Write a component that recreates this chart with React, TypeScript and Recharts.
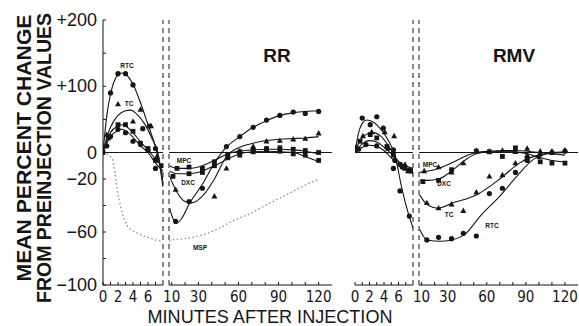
import { ComposedChart, Line, ReferenceLine, Scatter, XAxis, YAxis } from 'recharts'

type Pair = [number, number]
type Mark = 'circle' | 'triangle' | 'square'

// minutes: 0-8 during infusion, then 10-120 on a compressed scale after the break
const earlyTicks = [0, 1, 2, 3, 4, 5, 6, 7]
const earlyLabels = [0, 2, 4, 6]
const lateTicks = [10, 20, 30, 40, 50, 60, 70, 80, 90, 100, 110, 120]
const lateLabels = [10, 30, 60, 90, 120]

// percent change; the scale above zero is half as tall per unit as below
const yLabelValues = [200, 100, 0, -20, -60, -100]
const yLabelText = ['+200', '+100', '0', '\u221220', '\u221260', '\u2212100']
const yMinor = [150, 50, -40, -80]

// ---- RR panel ----
const rrRtcFitL: Pair[] = [[0, 0], [0.5, 55], [1, 88], [1.5, 108], [2, 117], [2.5, 120], [3, 118], [4, 103], [5, 75], [6, 42], [7, 8], [7.5, -8], [8, -26]]
const rrRtcPtsL: Pair[] = [[1, 90], [2, 119], [3, 119], [4, 102], [5.3, 36], [6.2, 40], [7, 6]]
const rrTcFitL: Pair[] = [[0, 0], [0.5, 22], [1, 38], [2, 56], [3, 63], [3.7, 64], [4.5, 58], [5.5, 44], [6.5, 22], [7.3, 0], [8, -22]]
const rrTcPtsL: Pair[] = [[0.5, 27], [2, 73], [4, 47], [5, 65], [6.4, 40], [7.2, -3]]
const rrMpcFitL: Pair[] = [[0, 0], [0.5, 18], [1, 30], [2, 40], [2.5, 42], [3, 40], [4, 30], [5, 16], [6, 4], [7, -5], [8, -11]]
const rrMpcPtsL: Pair[] = [[0, 0], [0.7, 22], [2, 42], [3, 42], [4, 32], [5, 14], [6, 6], [7, -6], [8, -10]]
const rrDxcFitL: Pair[] = [[0, 0], [0.5, 14], [1, 24], [2, 33], [2.5, 35], [3, 33], [4, 23], [5, 10], [6, 0], [7, -8], [8, -14]]
const rrDxcPtsL: Pair[] = [[0.5, 10], [1, 24], [2, 35], [3, 30], [4, 17], [5, 12], [6, 3], [7, -12]]
const rrMspL: Pair[] = [[0, 0], [0.8, -2], [1.3, -6], [1.6, -16], [1.9, -28], [2.4, -42], [3.2, -55], [4, -59], [5, -62], [6, -64], [7, -66], [8, -67]]

const rrRtcFitR: Pair[] = [[8.5, -42], [11, -50], [14, -53], [18, -49], [23, -39], [33, -24], [42, -8], [51, 8], [61, 24], [71, 38], [81, 48], [91, 56], [101, 60], [110, 62], [120, 63]]
const rrRtcPtsR: Pair[] = [[13, -52], [23, -37], [33, -27], [51, 9], [61, 24], [71, 38], [81, 49], [91, 56], [101, 61], [110, 59], [120, 62]]
const rrTcFitR: Pair[] = [[8.5, -18], [14, -30], [20, -37], [25, -38], [33, -33], [42, -20], [51, -3], [61, 8], [71, 14], [81, 18], [91, 20], [101, 21], [110, 22], [120, 24]]
const rrTcPtsR: Pair[] = [[13, -28], [42, -33], [51, -12], [61, 2], [71, 9], [81, 17], [91, 18], [101, 20], [110, 21], [120, 29]]
const rrMpcFitR: Pair[] = [[8.5, -10], [14, -12], [23, -12], [33, -10], [42, -6], [52, -1], [61, 2], [71, 4], [81, 5], [91, 5], [101, 4], [110, 2], [120, -1]]
const rrMpcPtsR: Pair[] = [[14, -12], [23, -11], [33, -12], [42, -7], [52, -2], [61, 1], [71, 4], [81, 6], [91, 7], [101, 5], [110, 3], [120, 0]]
const rrDxcFitR: Pair[] = [[8.5, -14], [14, -16], [23, -16], [33, -14], [42, -10], [52, -5], [61, -1], [71, 1], [81, 2], [91, 1], [101, 0], [110, -3], [120, -7]]
const rrDxcPtsR: Pair[] = [[11, -18], [23, -16], [33, -15], [42, -10], [52, -4], [61, -2], [71, 1], [81, 3], [91, 2], [101, -1], [110, -2], [120, -6]]
const rrMspR: Pair[] = [[8, -67], [10, -66], [20, -65], [30, -63], [44, -58], [55, -52], [69, -46], [80, -40], [94, -33], [105, -27], [120, -20]]

// ---- RMV panel ----
const rmvRtcFitL: Pair[] = [[0, 0], [0.5, 30], [1, 44], [1.6, 49], [2.5, 46], [3.5, 36], [4.5, 20], [5.5, -2], [6.5, -28], [7.3, -45], [8, -57]]
const rmvRtcPtsL: Pair[] = [[1, 52], [2.1, 42], [3, 54], [3.9, 37], [5.3, 4], [5.3, -12], [6.2, -29], [7.5, -48]]
const rmvTcFitL: Pair[] = [[0, 0], [0.7, 18], [1.5, 27], [2.5, 30], [3.5, 25], [4.5, 12], [5.5, -3], [6.5, -10], [7.5, -14], [8, -16]]
const rmvTcPtsL: Pair[] = [[0.2, 9], [1.1, 25], [2.3, 31], [4.1, 31], [5.4, 25], [6.9, -9], [7.3, -14]]
const rmvMpcFitL: Pair[] = [[0, 0], [1, 13], [2, 18], [3, 16], [4, 8], [5, -1], [6, -7], [7, -10], [8, -12]]
const rmvMpcPtsL: Pair[] = [[0.7, 17], [2.1, 27], [3, 22], [4.4, 9], [5.3, -2], [6.2, -9], [6.9, -12], [7.7, -14]]
const rmvDxcFitL: Pair[] = [[0, 0], [1, 8], [2, 11], [3, 9], [4, 3], [5, -4], [6, -9], [7, -12], [8, -14]]
const rmvDxcPtsL: Pair[] = [[0.5, 5], [1.5, 12], [3, 10], [4.5, 6], [5.5, -6], [6.5, -11], [7.5, -13]]

const rmvRtcFitR: Pair[] = [[8.5, -58], [14, -66], [24, -67], [33, -66], [43, -62], [55, -48], [70, -33], [83, -18], [96, -5], [111, 0], [120, 1]]
const rmvRtcPtsR: Pair[] = [[14, -66], [23, -64], [33, -65], [42, -61], [52, -63], [62, -31], [72, -27], [82, -15], [91, -6], [100, -3], [110, 0], [120, 2]]
const rmvTcFitR: Pair[] = [[8.5, -32], [14, -39], [23, -42], [34, -38], [52, -32], [70, -20], [85, -8], [100, -2], [120, 0]]
const rmvTcPtsR: Pair[] = [[14, -38], [23, -42], [33, -39], [42, -44], [52, -30], [62, -18], [72, -17], [82, -8], [91, -2], [101, 2], [110, 0], [120, 3]]
const rmvMpcFitR: Pair[] = [[8.5, -15], [15, -14], [23, -12], [33, -8], [43, -3], [52, 0], [62, 2], [72, 3], [82, 3], [91, 2], [101, 0], [110, -1], [120, -2]]
const rmvMpcPtsR: Pair[] = [[12, -14], [23, -11], [33, -15], [42, -8], [52, 3], [62, 2], [72, 3], [82, 1], [91, 6], [101, -1], [110, 2], [120, 3]]
const rmvDxcFitR: Pair[] = [[8.5, -21], [15, -21], [23, -20], [33, -14], [43, -6], [52, -1], [62, 1], [72, 2], [82, 1], [91, -1], [101, -4], [110, -6], [120, -7]]
const rmvDxcPtsR: Pair[] = [[11, -22], [23, -21], [33, -13], [52, 2], [62, 1], [72, -3], [82, 7], [91, -5], [101, -7], [110, -8], [120, -8]]

const INK = '#151515'
const H = 326

const toAxis = (v: number) => (v > 0 ? v / 2 : v)
const fromAxis = (d: number) => (d > 0 ? d * 2 : d)
const rows = (pairs: Pair[]) => pairs.map(([t, v]) => ({ t, y: toAxis(v) }))
const yTicks = [...yLabelValues, ...yMinor].map(toAxis).sort((a, b) => a - b)

const markShape = (kind: Mark) => (p: any) => {
  const { cx, cy } = p
  if (kind === 'triangle')
    return <polygon points={`${cx},${cy - 3.2} ${cx - 3},${cy + 2.2} ${cx + 3},${cy + 2.2}`} fill={INK} />
  if (kind === 'square') return <rect x={cx - 2.4} y={cy - 2.4} width={4.8} height={4.8} fill={INK} />
  return <circle cx={cx} cy={cy} r={2.6} fill={INK} />
}

const bottomTick = (labels: number[]) => (p: any) => (
  <g>
    <line x1={p.x} x2={p.x} y1={p.y} y2={p.y - 3} stroke={INK} />
    {labels.includes(p.payload.value) && (
      <text x={p.x} y={p.y + 17} textAnchor="middle" fontSize={15} fill={INK}
        fontFamily="'Liberation Sans Narrow', 'DejaVu Sans Condensed', sans-serif">
        {p.payload.value}
      </text>
    )}
  </g>
)
const topTick = (p: any) => <line x1={p.x} x2={p.x} y1={p.y} y2={p.y + 3} stroke={INK} />
const rightTick = (p: any) => <line x1={p.x} x2={p.x - 3} y1={p.y} y2={p.y} stroke={INK} />
const leftTick = (showLabels: boolean) => (p: any) => {
  const i = yLabelValues.indexOf(fromAxis(p.payload.value))
  return (
    <g>
      <line x1={p.x} x2={p.x + 3} y1={p.y} y2={p.y} stroke={INK} />
      {showLabels && i >= 0 && (
        <text x={p.x - 6} y={p.y + 6} textAnchor="end" fontSize={18} fill={INK}
          fontFamily="'Liberation Sans', Arial, sans-serif">
          {yLabelText[i]}
        </text>
      )}
    </g>
  )
}

type Series = { fit: Pair[]; pts?: Pair[]; mark?: Mark; dotted?: boolean }
type SegProps = {
  left: number
  padL: number
  plotW: number
  padR: number
  domain: [number, number]
  ticks: number[]
  labels: number[]
  yLabels?: boolean
  leftEdge: 'axis' | 'dashed'
  rightEdge: 'axis' | 'dashed'
  series: Series[]
}

function Segment({ left, padL, plotW, padR, domain, ticks, labels, yLabels, leftEdge, rightEdge, series }: SegProps) {
  return (
    <div style={{ position: 'absolute', left, top: 0 }}>
      <ComposedChart
        width={padL + plotW + padR}
        height={H}
        margin={{ top: 20, right: padR, bottom: 0, left: yLabels ? 0 : padL }}
      >
        <XAxis type="number" dataKey="t" domain={domain} allowDataOverflow ticks={ticks} interval={0}
          height={41} tickSize={0} tickMargin={0} tickLine={false} axisLine={{ stroke: INK }} tick={bottomTick(labels)} />
        <XAxis xAxisId="top" orientation="top" type="number" domain={domain} allowDataOverflow ticks={ticks}
          interval={0} height={0} tickSize={0} tickMargin={0} tickLine={false} axisLine={{ stroke: INK }} tick={topTick} />
        <YAxis type="number" dataKey="y" domain={[-100, 100]} allowDataOverflow ticks={yTicks} interval={0}
          width={yLabels ? padL : 0} hide={leftEdge === 'dashed'} tickSize={0} tickMargin={0} tickLine={false}
          axisLine={{ stroke: INK }} tick={leftTick(!!yLabels)} />
        {rightEdge === 'axis' && (
          <YAxis yAxisId="r" orientation="right" type="number" dataKey="y" domain={[-100, 100]} allowDataOverflow
            ticks={yTicks} interval={0} width={0} tickSize={0} tickMargin={0} tickLine={false}
            axisLine={{ stroke: INK }} tick={rightTick} />
        )}
        <ReferenceLine y={0} stroke={INK} strokeWidth={1} />
        {leftEdge === 'dashed' && <ReferenceLine x={domain[0]} stroke={INK} strokeDasharray="5 4" />}
        {rightEdge === 'dashed' && <ReferenceLine x={domain[1]} stroke={INK} strokeDasharray="5 4" />}
        {series.map((s, i) => (
          <Line key={`l${i}`} data={rows(s.fit)} dataKey="y" type="monotone" dot={false}
            stroke={s.dotted ? '#8a8a8a' : INK} strokeWidth={s.dotted ? 1.3 : 1.1}
            strokeDasharray={s.dotted ? '1.5 2.5' : undefined} isAnimationActive={false} />
        ))}
        {series.map((s, i) =>
          s.pts ? (
            <Scatter key={`s${i}`} data={rows(s.pts)} shape={markShape(s.mark ?? 'circle')} isAnimationActive={false} />
          ) : null,
        )}
      </ComposedChart>
    </div>
  )
}

const tinyLabel = (x: number, y: number, text: string) => (
  <text x={x} y={y} textAnchor="middle" fontSize={6.5} fontWeight="bold" fill={INK}
    fontFamily="'Liberation Sans', Arial, sans-serif">
    {text}
  </text>
)

export default function App() {
  return (
    <div style={{ position: 'absolute', left: 0, top: 0, width: 579, height: H, background: '#fff', overflow: 'hidden' }}>
      <Segment left={0} padL={103} plotW={60} padR={2} domain={[0, 8]} ticks={earlyTicks} labels={earlyLabels}
        yLabels leftEdge="axis" rightEdge="dashed"
        series={[
          { fit: rrMspL, dotted: true },
          { fit: rrRtcFitL, pts: rrRtcPtsL, mark: 'circle' },
          { fit: rrTcFitL, pts: rrTcPtsL, mark: 'triangle' },
          { fit: rrMpcFitL, pts: rrMpcPtsL, mark: 'square' },
          { fit: rrDxcFitL, pts: rrDxcPtsL, mark: 'circle' },
        ]} />
      <Segment left={159} padL={10} plotW={163} padR={2} domain={[8, 130]} ticks={lateTicks} labels={lateLabels}
        leftEdge="dashed" rightEdge="axis"
        series={[
          { fit: rrMspR, dotted: true },
          { fit: rrRtcFitR, pts: rrRtcPtsR, mark: 'circle' },
          { fit: rrTcFitR, pts: rrTcPtsR, mark: 'triangle' },
          { fit: rrMpcFitR, pts: rrMpcPtsR, mark: 'square' },
          { fit: rrDxcFitR, pts: rrDxcPtsR, mark: 'square' },
        ]} />
      <Segment left={345} padL={10} plotW={58} padR={2} domain={[0, 8]} ticks={earlyTicks} labels={earlyLabels}
        leftEdge="axis" rightEdge="dashed"
        series={[
          { fit: rmvRtcFitL, pts: rmvRtcPtsL, mark: 'circle' },
          { fit: rmvTcFitL, pts: rmvTcPtsL, mark: 'triangle' },
          { fit: rmvMpcFitL, pts: rmvMpcPtsL, mark: 'square' },
          { fit: rmvDxcFitL, pts: rmvDxcPtsL, mark: 'circle' },
        ]} />
      <Segment left={409} padL={10} plotW={159} padR={1} domain={[8, 130]} ticks={lateTicks} labels={lateLabels}
        leftEdge="dashed" rightEdge="axis"
        series={[
          { fit: rmvRtcFitR, pts: rmvRtcPtsR, mark: 'circle' },
          { fit: rmvTcFitR, pts: rmvTcPtsR, mark: 'triangle' },
          { fit: rmvMpcFitR, pts: rmvMpcPtsR, mark: 'triangle' },
          { fit: rmvDxcFitR, pts: rmvDxcPtsR, mark: 'square' },
        ]} />
      <svg width={579} height={H} style={{ position: 'absolute', left: 0, top: 0, pointerEvents: 'none' }}>
        <g fontFamily="'Liberation Sans', Arial, sans-serif" fill={INK}>
          <text transform="translate(31,148) rotate(-90)" textAnchor="middle" fontSize={20} fontWeight="bold"
            textLength={267} lengthAdjust="spacingAndGlyphs">MEAN PERCENT CHANGE</text>
          <text transform="translate(51,158) rotate(-90)" textAnchor="middle" fontSize={20} fontWeight="bold"
            textLength={290} lengthAdjust="spacingAndGlyphs">FROM PREINJECTION VALUES</text>
          <text x={270} y={323} textAnchor="middle" fontSize={18} textLength={245}
            lengthAdjust="spacingAndGlyphs">MINUTES AFTER INJECTION</text>
          <text x={277} y={62} textAnchor="middle" fontSize={19} fontWeight="bold">RR</text>
          <text x={514} y={62} textAnchor="middle" fontSize={19} fontWeight="bold">RMV</text>
        </g>
        {tinyLabel(127, 68, 'RTC')}
        {tinyLabel(129, 106, 'TC')}
        {tinyLabel(184, 163, 'MPC')}
        {tinyLabel(188, 185, 'DXC')}
        {tinyLabel(200, 250, 'MSP')}
        {tinyLabel(430, 167, 'MPC')}
        {tinyLabel(444, 186, 'DXC')}
        {tinyLabel(449, 217, 'TC')}
        {tinyLabel(492, 228, 'RTC')}
      </svg>
    </div>
  )
}
